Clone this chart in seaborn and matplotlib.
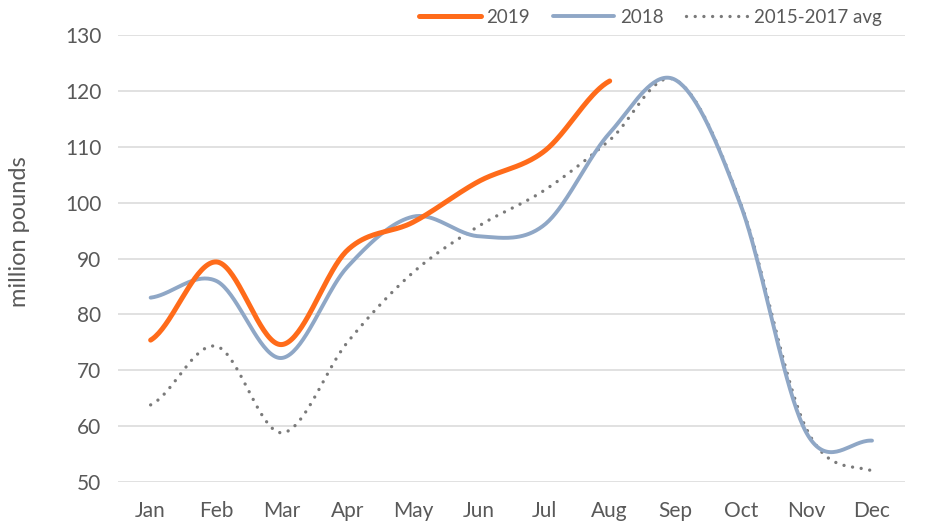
import numpy as np
import pandas as pd
import matplotlib
matplotlib.use("Agg")
import matplotlib.pyplot as plt
import seaborn as sns

# values (million pounds)
months = ["Jan", "Feb", "Mar", "Apr", "May", "Jun",
          "Jul", "Aug", "Sep", "Oct", "Nov", "Dec"]
y2019 = [75.4, 89.4, 74.6, 91.5, 96.5, 103.8, 109.2, 121.8]
y2018 = [83.0, 86.0, 72.2, 88.5, 97.5, 94.0, 96.0, 112.5, 122.0, 99.5, 58.8, 57.4]
avg_15_17 = [63.8, 74.3, 58.8, 75.0, 87.5, 95.8, 102.2, 111.2, 122.0, 99.8, 59.5, 52.0]

yticks = [50, 60, 70, 80, 90, 100, 110, 120, 130]


# Excel-style smoothed line: cubic bezier through every point
def smooth(vals, n=40):
    p = np.asarray(vals, dtype=float)
    ext = np.concatenate([[p[0]], p, [p[-1]]])
    xs, ys = [], []
    for i in range(len(p) - 1):
        p0, p1 = p[i], p[i + 1]
        c1 = p0 + (ext[i + 2] - ext[i]) / 6
        c2 = p1 - (ext[i + 3] - ext[i + 1]) / 6
        t = np.linspace(0, 1, n, endpoint=(i == len(p) - 2))
        ys.append((1 - t) ** 3 * p0 + 3 * (1 - t) ** 2 * t * c1
                  + 3 * (1 - t) * t ** 2 * c2 + t ** 3 * p1)
        xs.append(i + t)
    return np.concatenate(xs), np.concatenate(ys)


sns.set_theme(style="white")
plt.rcParams["font.family"] = ["Lato", "DejaVu Sans"]
text_col = "#595959"

fig = plt.figure(figsize=(9.28, 5.25), dpi=100)
ax = fig.add_axes([0.127, 0.082, 0.848, 0.851])

series = [
    ("2015-2017 avg", avg_15_17, dict(color="#7a7a7a", lw=2.4, ls=(0, (0.01, 2.6)),
                                       dash_capstyle="round")),
    ("2018", y2018, dict(color="#8fa7c6", lw=2.8, solid_capstyle="round")),
    ("2019", y2019, dict(color="#ff6b1a", lw=3.6, solid_capstyle="round")),
]
handles = {}
for name, vals, style in series:
    sx, sy = smooth(vals)
    df = pd.DataFrame({"x": sx, "y": sy})
    sns.lineplot(data=df, x="x", y="y", ax=ax, sort=False, **style)
    handles[name] = ax.lines[-1]

ax.set_xlim(-0.5, 11.5)
ax.set_ylim(50, 130)
ax.set_yticks(yticks)
ax.set_xticks(range(len(months)))
ax.set_xticklabels(months)
ax.grid(axis="y", color="#d9d9d9", lw=1.1)
ax.grid(axis="x", visible=False)
for s in ax.spines.values():
    s.set_visible(False)
ax.tick_params(axis="both", length=0, labelsize=15, colors=text_col)
ax.tick_params(axis="x", pad=14)
ax.tick_params(axis="y", pad=12)
ax.set_xlabel("")
ax.set_ylabel("million pounds", fontsize=17, color=text_col)
ax.yaxis.set_label_coords(-0.112, 0.56)

fig.legend([handles["2019"], handles["2018"], handles["2015-2017 avg"]],
           ["2019", "2018", "2015-2017 avg"], loc="upper right",
           bbox_to_anchor=(0.968, 1.015), ncol=3, frameon=False, fontsize=13.5,
           handlelength=3.3, handletextpad=0.3, columnspacing=1.2,
           labelcolor=text_col)

fig.savefig("out.png", dpi=100)
